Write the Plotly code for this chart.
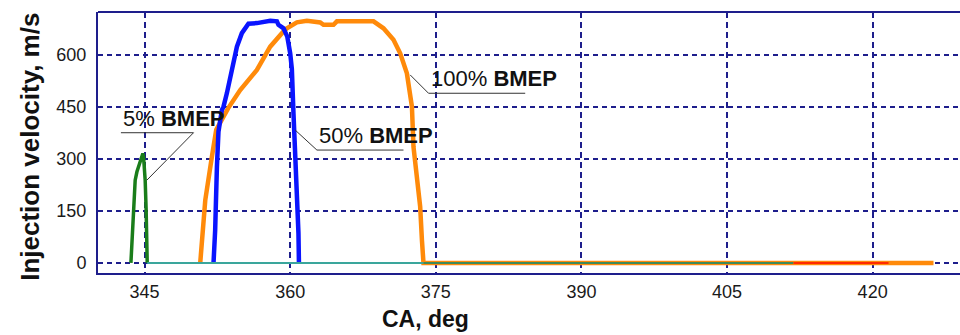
import plotly.graph_objects as go

# ---------------- data ----------------
x_ticks = [345, 360, 375, 390, 405, 420]
y_ticks = [0, 150, 300, 450, 600]

# 5% BMEP (green)
ca_5 = [343.59, 343.75, 343.86, 344.03, 344.21, 344.72, 344.82, 344.90, 345.06, 345.16, 345.27]
v_5 = [0, 80, 162, 239, 263, 311, 316, 303, 238, 152, 0]

# 50% BMEP (blue)
ca_50 = [352.10, 352.27, 352.45, 352.61, 352.96, 353.13, 353.48, 353.99, 354.51, 355.02,
         355.54, 355.70, 356.57, 356.91, 357.94, 358.63, 358.79, 359.31, 359.70, 360.00,
         360.17, 360.34, 360.51, 360.69, 360.85, 360.90]
v_50 = [0, 95, 277, 379, 441, 451, 490, 560, 624, 663,
        687, 690, 692, 694, 699, 697, 687, 677, 653, 605,
        560, 430, 326, 181, 86, 0]

# 100% BMEP (orange)
ca_100 = [350.73, 351.25, 351.93, 352.38, 353.60, 354.85, 356.57, 357.94, 359.31, 359.66,
          360.69, 361.72, 363.09, 363.43, 364.46, 364.81, 368.58, 369.61, 370.64, 371.33,
          372.02, 372.54, 372.70, 373.05, 373.39, 373.57, 373.73, 426.27]
v_100 = [0, 181, 306, 384, 446, 499, 557, 624, 668, 677,
         694, 699, 694, 687, 687, 697, 697, 677, 644, 605,
         547, 451, 335, 239, 162, 66, 0, 0]

# zero-velocity tails
ca_tail_a = [345.27, 373.73]
v_tail_a = [0, 0]
ca_tail_b = [373.73, 411.85]
v_tail_b = [0, 0]
ca_tail_c = [411.85, 421.64]
v_tail_c = [0, 0]

# curve labels
labels = ["5% <b>BMEP</b>", "50% <b>BMEP</b>", "100% <b>BMEP</b>"]
label_x0 = [342.56, 362.75, 374.25]   # underline start
label_x1 = [350.04, 371.67, 384.21]   # underline end
label_y = [375.7, 325.7, 489.6]        # underline level
lead_x0 = [350.04, 362.75, 374.25]    # leader start
tip_x = [345.24, 360.51, 372.36]       # leader tip on curve
tip_y = [239, 383.5, 542.5]

FONT = "Liberation Sans, Arial, sans-serif"
NAVY = "#1e1e8c"

fig = go.Figure()
fig.add_trace(go.Scatter(x=ca_100, y=v_100, mode="lines",
                         line=dict(color="#ff8a0a", width=4.5)))
fig.add_trace(go.Scatter(x=ca_50, y=v_50, mode="lines",
                         line=dict(color="#0a14ff", width=4.5)))
fig.add_trace(go.Scatter(x=ca_5, y=v_5, mode="lines",
                         line=dict(color="#1a7d1a", width=3.5)))
fig.add_trace(go.Scatter(x=ca_tail_a, y=v_tail_a, mode="lines",
                         line=dict(color="#3aa69c", width=2)))
fig.add_trace(go.Scatter(x=ca_tail_b, y=v_tail_b, mode="lines",
                         line=dict(color="#3f8a58", width=2)))
fig.add_trace(go.Scatter(x=ca_tail_c, y=v_tail_c, mode="lines",
                         line=dict(color="#ff2a00", width=2)))

shapes = []
annotations = []
for i in range(len(labels)):
    path = (f"M {label_x0[i]},{label_y[i]} L {label_x1[i]},{label_y[i]} "
            f"M {lead_x0[i]},{label_y[i]} L {tip_x[i]},{tip_y[i]}")
    shapes.append(dict(type="path", path=path, xref="x", yref="y",
                       line=dict(color="#333333", width=1)))
    annotations.append(dict(x=label_x0[i], y=label_y[i], xref="x", yref="y",
                            text=labels[i], showarrow=False,
                            xanchor="left", yanchor="bottom",
                            font=dict(family=FONT, size=22, color="#111111")))

# top frame line
shapes.append(dict(type="line", xref="paper", yref="paper", x0=0, x1=1, y0=1, y1=1,
                   line=dict(color=NAVY, width=2)))

annotations.append(dict(text="<b>Injection velocity, m/s</b>", xref="paper", yref="paper",
                        x=-0.079, y=0.483, textangle=-90, showarrow=False,
                        xanchor="center", yanchor="middle",
                        font=dict(family=FONT, size=26, color="#111111")))
annotations.append(dict(text="<b>CA, deg</b>", xref="paper", yref="paper",
                        x=0.3805, y=-0.175, showarrow=False,
                        xanchor="center", yanchor="middle",
                        font=dict(family=FONT, size=23, color="#111111")))

fig.update_layout(
    width=960, height=335,
    margin=dict(l=98, r=0, t=12, b=62),
    paper_bgcolor="white", plot_bgcolor="white",
    showlegend=False,
    shapes=shapes, annotations=annotations,
    xaxis=dict(range=[340.2, 429.0], tickvals=x_ticks, ticktext=[str(t) for t in x_ticks],
               showgrid=True, gridcolor=NAVY, gridwidth=1.5, griddash="6px,4px",
               zeroline=False, showline=True, linecolor=NAVY, linewidth=2,
               ticks="", ticklabelstandoff=1,
               tickfont=dict(family=FONT, size=18, color="#1a1a1a")),
    yaxis=dict(range=[-29, 724], tickvals=y_ticks, ticktext=[str(t) for t in y_ticks],
               showgrid=True, gridcolor=NAVY, gridwidth=1.5, griddash="5px,4px",
               zeroline=False, showline=True, linecolor=NAVY, linewidth=2,
               ticks="", ticklabelstandoff=6,
               tickfont=dict(family=FONT, size=18, color="#1a1a1a")),
)

fig.write_html("out.html")
